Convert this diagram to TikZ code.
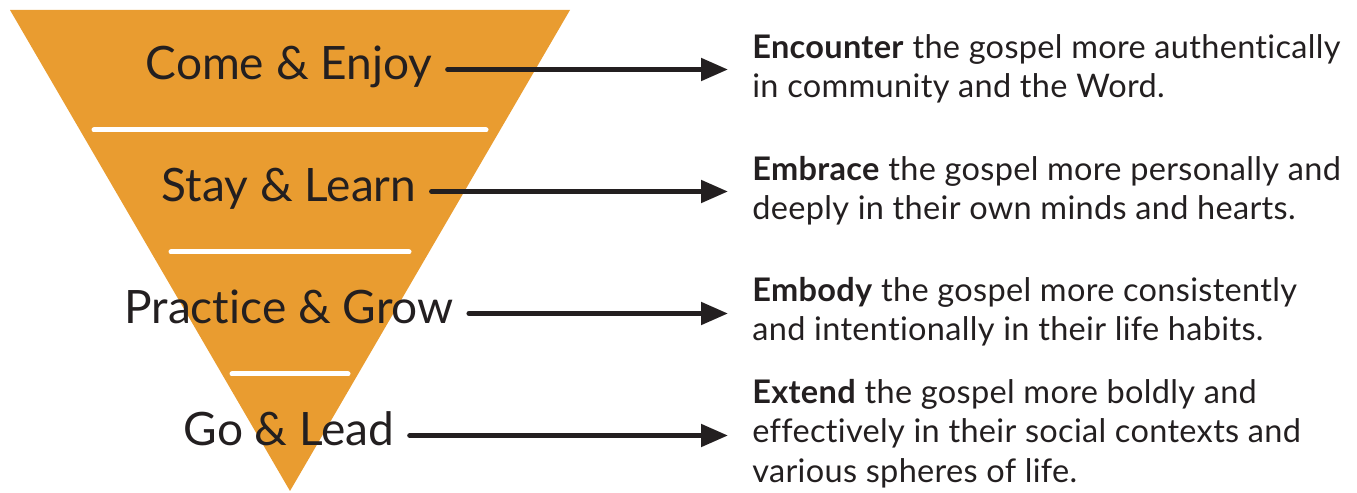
\documentclass[tikz,border=0pt]{standalone}
\usepackage{fontspec}
\setmainfont{Lato}[Ligatures={NoCommon}]
\usepackage{xcolor}
\usepackage{tikz}
\usetikzlibrary{arrows.meta,positioning}
\definecolor{funnel}{HTML}{E99C30}
\definecolor{ink}{HTML}{231F20}

\begin{document}
\begin{tikzpicture}[x=0.02cm, y=-0.02cm,
    stage/.style={anchor=base, inner xsep=0.3cm, inner ysep=0pt, text=ink,
      font=\fontsize{26.2}{30}\selectfont},
    desc/.style={anchor=base west, inner sep=0pt, align=left, text=ink,
      font=\fontsize{18.5}{22.2}\selectfont\addfontfeature{LetterSpace=1}},
    flow/.style={-{Triangle[length=0.54cm, width=0.44cm]}, line width=0.1cm,
      draw=ink, line cap=round, shorten >=0.48cm},
    divider/.style={white, line width=0.1cm, line cap=round}]
    \useasboundingbox (0,0) rectangle (1357,493);

    % inverted funnel
    \fill[funnel] (10,10) -- (570,10) -- (290,491) -- cycle;
    \draw[divider] (94,130) -- (486,130);
    \draw[divider] (171,252) -- (409,252);
    \draw[divider] (232,374) -- (348,374);

    % stages
    \node[stage] (come) at (289,80) {Come \& Enjoy};
    \node[stage] (stay) at (289,202) {Stay \& Learn};
    \node[stage] (practice) at (289,324) {Practice \& Grow};
    \node[stage] (go) at (289,446) {Go \& Lead};

    % descriptions (placed by their last baseline)
    \node[desc] (encounter) at (752,98) {\textbf{Encounter} the gospel more authentically\\in community and the Word.};
    \node[desc] (embrace) at (752,220) {\textbf{Embrace} the gospel more personally and\\deeply in their own minds and hearts.};
    \node[desc] (embody) at (752,341) {\textbf{Embody} the gospel more consistently\\and intentionally in their life habits.};
    \node[desc] (extend) at (752,482) {\textbf{Extend} the gospel more boldly and\\effectively in their social contexts and\\various spheres of life.};

    % arrows
    \coordinate (a1) at ([yshift=0.21cm]come.base east);
    \coordinate (a2) at ([yshift=0.21cm]stay.base east);
    \coordinate (a3) at ([yshift=0.21cm]practice.base east);
    \coordinate (a4) at ([yshift=0.21cm]go.base east);
    \draw[flow] (a1) -- (a1 -| encounter.west);
    \draw[flow] (a2) -- (a2 -| embrace.west);
    \draw[flow] (a3) -- (a3 -| embody.west);
    \draw[flow] (a4) -- (a4 -| extend.west);
\end{tikzpicture}
\end{document}
